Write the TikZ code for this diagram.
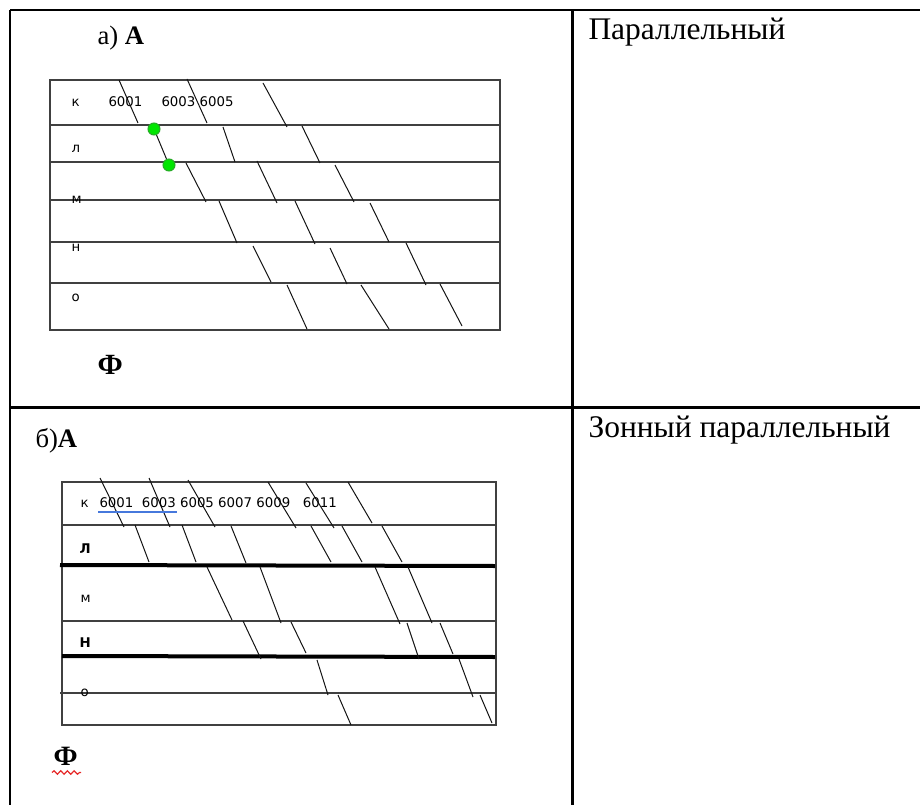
\documentclass[tikz,border=0pt]{standalone}
\usepackage{fontspec}
\setmainfont{Liberation Serif}
\newfontfamily\cellfont{DejaVu Sans}
\usetikzlibrary{decorations.pathmorphing}
\tikzset{every picture/.style={line width=0.75pt}}
\tikzset{
  cellrule/.style={color={rgb, 255:red, 64; green, 64; blue, 64 }, line width=1.1},
  slant/.style={color={rgb, 255:red, 20; green, 20; blue, 20 }, line width=0.75},
  rowlbl/.style={anchor=base west, inner sep=0.75pt, font=\cellfont\fontsize{10}{12}\selectfont},
  headtxt/.style={anchor=base west, inner sep=0.75pt, font=\fontsize{23.6}{28}\selectfont},
  parttxt/.style={anchor=base west, inner sep=0.75pt, font=\fontsize{20}{24}\selectfont},
}

\begin{document}
\begin{tikzpicture}[x=0.75pt,y=0.75pt,yscale=-1,xscale=1]
\useasboundingbox (0,0) rectangle (920,805);

%Straight Lines: outer table
\draw [line width=1.9]   (10,10) -- (920,10) ;
\draw [line width=1.9]   (10,10) -- (10,805) ;
\draw [line width=1.9]   (572.5,10) -- (572.5,805) ;
\draw [line width=1.9]   (10,407.5) -- (920,407.5) ;

%Shape: Rectangle: scheme a
\draw  [cellrule] (50,80) -- (500,80) -- (500,330) -- (50,330) -- cycle ;
%Straight Lines: rows of scheme a
\draw [cellrule]   (50,125) -- (500,125) (50,162) -- (500,162) (50,200) -- (500,200) (50,242) -- (500,242) (50,283) -- (500,283) ;

%Straight Lines: cuts of scheme a
\draw [slant]   (119,80) -- (138,123) (187,79) -- (207,123) (263,83) -- (287,127) ;
\draw [slant]   (154,129) -- (169,165) (223,127) -- (235,162) (302,126) -- (320,163) ;
\draw [slant]   (186,163) -- (206,202) (257,161) -- (277,203) (335,165) -- (354,202) ;
\draw [slant]   (219,201) -- (237,243) (295,201) -- (315,244) (370,203) -- (389,242) ;
\draw [slant]   (253,246) -- (271,282) (330,248) -- (347,284) (406,243) -- (426,285) ;
\draw [slant]   (287,285) -- (307,329) (361,285) -- (389,329) (440,284) -- (462,326) ;

%Shape: Circle
\draw  [color={rgb, 255:red, 40; green, 170; blue, 40 }  ,draw opacity=1 ][fill={rgb, 255:red, 0; green, 230; blue, 0 }  ,fill opacity=1 ] (154,129) circle (6) ;
%Shape: Circle
\draw  [color={rgb, 255:red, 40; green, 170; blue, 40 }  ,draw opacity=1 ][fill={rgb, 255:red, 0; green, 230; blue, 0 }  ,fill opacity=1 ] (169,165) circle (6) ;

%Shape: Rectangle: scheme b
\draw  [cellrule] (62,482) -- (496,482) -- (496,725) -- (62,725) -- cycle ;
%Straight Lines: rows of scheme b
\draw [cellrule]   (62,525) -- (496,525) (62,621) -- (496,621) (60,693) -- (496,693) ;
\draw [line width=3]   (60,565) -- (495,566) (62,656) -- (495,657) ;

%Straight Lines: cuts of scheme b
\draw [slant]   (100,478) -- (124,527) (149,478) -- (170,527) (188,480) -- (215,527) (268,482) -- (296,528) (306,483) -- (334,528) (348,482) -- (372,523) ;
\draw [slant]   (135,525) -- (149,562) (182,525) -- (196,562) (231,526) -- (246,563) (311,526) -- (331,562) (342,526) -- (362,562) (382,526) -- (402,562) ;
\draw [slant]   (207,567) -- (232,620) (260,567) -- (281,623) (375,567) -- (400,624) (408,567) -- (432,623) ;
\draw [slant]   (243,621) -- (261,659) (291,622) -- (306,653) (407,623) -- (419,659) (440,623) -- (453,654) ;
\draw [slant]   (317,660) -- (328,695) (459,659) -- (473,697) ;
\draw [slant]   (338,695) -- (351,725) (480,695) -- (492,723) ;

% Text Node
\draw (96,45) node [parttxt] (partA) {а) \textbf{А}};
% Text Node
\draw (34,447) node [parttxt] (partB) {б)\textbf{А}};
% Text Node
\draw (587,40) node [headtxt] (headA) {Параллельный};
% Text Node
\draw (587,437) node [headtxt] (headB) {Зонный параллельный};
% Text Node
\draw (96,374) node [parttxt, font=\fontsize{22}{26}\selectfont] (phiA) {\textbf{Ф}};
% Text Node
\draw (52,765) node [parttxt, text=black, font=\fontsize{21}{25}\selectfont] (phiB) {\textbf{Ф}};
%Curve Lines: wavy mark
\draw [color={rgb, 255:red, 230; green, 40; blue, 40 }, line width=0.9, decorate, decoration={snake, amplitude=1.3, segment length=5}]   (phiB.south west) ++(0,6) -- ++(29,0) ;

% Text Node
\draw (70,107) node [rowlbl] (kA) {к};
\draw (70,153) node [rowlbl] (lA) {л};
\draw (70,204) node [rowlbl] (mA) {м};
\draw (70,252) node [rowlbl] (nA) {н};
\draw (70,301) node [rowlbl] (oA) {о};
% Text Node
\draw (107,107) node [rowlbl] (n6001A) {6001};
\draw (160,107) node [rowlbl] (n6003A) {6003 6005};

% Text Node
\draw (79,507) node [rowlbl] (kB) {к};
\draw (78,553) node [rowlbl] (lB) {\bfseries Л};
\draw (79,602) node [rowlbl] (mB) {м};
\draw (78,647) node [rowlbl] (nB) {\bfseries Н};
\draw (79,696) node [rowlbl] (oB) {о};
% Text Node
\draw (98,507) node [rowlbl] (n6001B) {6001\ \ 6003 6005 6007 6009\ \ \ 6011};
%Straight Lines: blue mark
\draw [color={rgb, 255:red, 70; green, 120; blue, 220 }, line width=1.5]   (98,512) -- (177,512) ;

\end{tikzpicture}
\end{document}
